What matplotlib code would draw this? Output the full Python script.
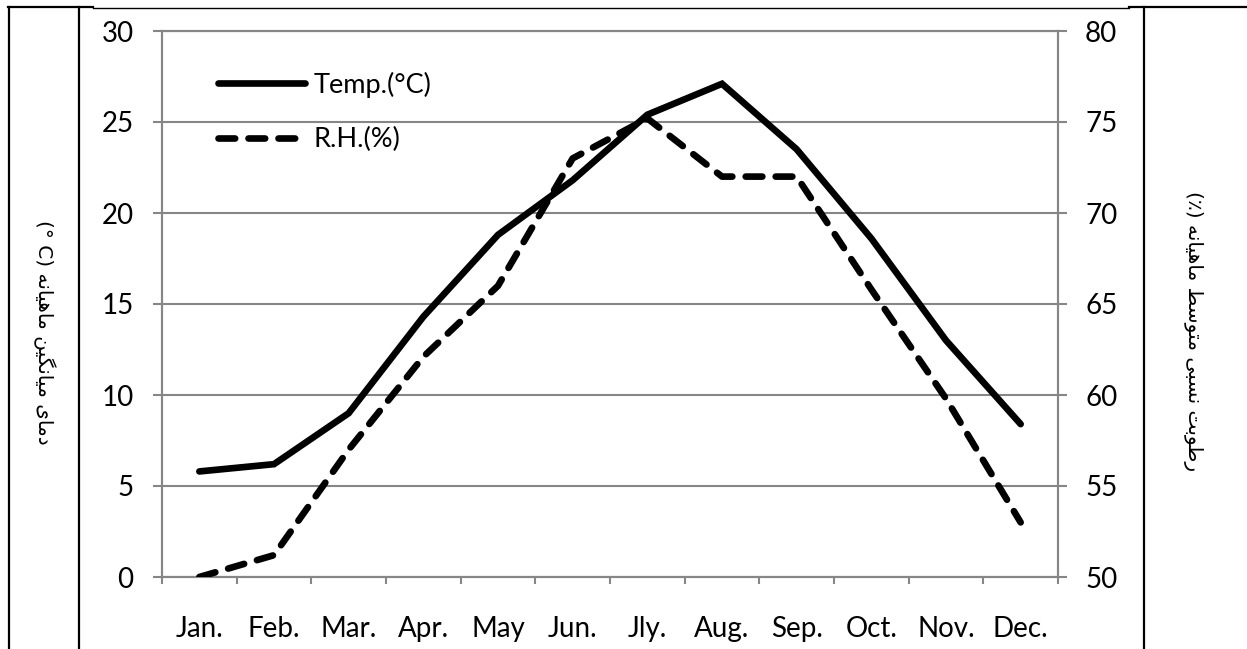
import matplotlib
matplotlib.use("Agg")
import matplotlib.pyplot as plt
from matplotlib.lines import Line2D
import numpy as np

# Datos
months = ['Jan.', 'Feb.', 'Mar.', 'Apr.', 'May', 'Jun.', 'Jly.', 'Aug.', 'Sep.', 'Oct.', 'Nov.', 'Dec.']
temp = [5.8, 6.2, 9.0, 14.3, 18.8, 21.8, 25.4, 27.1, 23.5, 18.6, 13.0, 8.4]
rh = [50.0, 51.2, 57.0, 62.1, 66.0, 73.0, 75.2, 72.0, 72.0, 65.8, 59.8, 53.0]
temp_ticks = [0, 5, 10, 15, 20, 25, 30]
rh_ticks = [50, 55, 60, 65, 70, 75, 80]
label_temp = 'دمای میانگین ماهیانه'
label_rh = 'رطوبت نسبی متوسط ماهیانه'

# formas de presentacion arabes (aislada, final, inicial, media)
FORMS = {
    'ا': ('\uFE8D', '\uFE8E'),
    'ب': ('\uFE8F', '\uFE90', '\uFE91', '\uFE92'),
    'ت': ('\uFE95', '\uFE96', '\uFE97', '\uFE98'),
    'د': ('\uFEA9', '\uFEAA'),
    'ر': ('\uFEAD', '\uFEAE'),
    'س': ('\uFEB1', '\uFEB2', '\uFEB3', '\uFEB4'),
    'ط': ('\uFEC1', '\uFEC2', '\uFEC3', '\uFEC4'),
    'م': ('\uFEE1', '\uFEE2', '\uFEE3', '\uFEE4'),
    'ن': ('\uFEE5', '\uFEE6', '\uFEE7', '\uFEE8'),
    'ه': ('\uFEE9', '\uFEEA', '\uFEEB', '\uFEEC'),
    'و': ('\uFEED', '\uFEEE'),
    'ی': ('\uFBFC', '\uFBFD', '\uFBFE', '\uFBFF'),
    'گ': ('\uFB92', '\uFB93', '\uFB94', '\uFB95'),
}


def shape(text):
    out = []
    for i, c in enumerate(text):
        if c not in FORMS:
            out.append(c)
            continue
        f = FORMS[c]
        prev = text[i - 1] if i > 0 else None
        nxt = text[i + 1] if i + 1 < len(text) else None
        jp = prev in FORMS and len(FORMS[prev]) == 4
        jn = len(f) == 4 and nxt in FORMS
        if jp and jn:
            out.append(f[3])
        elif jp:
            out.append(f[1])
        elif jn:
            out.append(f[2])
        else:
            out.append(f[0])
    return ''.join(out)[::-1]


plt.rcParams['font.family'] = ['Lato', 'DejaVu Sans']
W, H = 1247, 649
fig = plt.figure(figsize=(W / 100, H / 100), dpi=100)
ax = fig.add_axes([162 / W, 1 - 577 / H, (1058 - 162) / W, (577 - 31) / H])
ax2 = ax.twinx()

grey = '#868686'
x = np.arange(len(months))

ax.plot(x, temp, color='black', lw=4.8, solid_capstyle='round', solid_joinstyle='miter', label='Temp.(°C)', zorder=3)
ax2.plot(x, rh, color='black', lw=4.8, ls=(0, (2.5, 2.0)), dash_capstyle='round', label='R.H.(%)', zorder=3)

ax.set_xlim(-0.5, 11.5)
ax.set_ylim(0, 30)
ax2.set_ylim(50, 80)
ax.set_yticks(temp_ticks)
ax2.set_yticks(rh_ticks)
ax.set_xticks(np.arange(-0.5, 12, 1))
ax.set_xticklabels([])
ax.set_xticks(x, minor=True)
ax.set_xticklabels(months, minor=True)

ax.yaxis.grid(True, color=grey, lw=1.5)
ax.set_axisbelow(True)

for a in (ax, ax2):
    for s in a.spines.values():
        s.set_color(grey)
        s.set_linewidth(1.5)
    a.set_facecolor('none')

ax.tick_params(axis='y', length=6.5, width=1.5, color=grey, pad=14, labelsize=20)
ax2.tick_params(axis='y', length=6.5, width=1.5, color=grey, pad=13, labelsize=20)
ax.tick_params(axis='x', which='major', length=5, width=1.5, color=grey)
ax.tick_params(axis='x', which='minor', length=0, pad=28, labelsize=20)

h1, l1 = ax.get_legend_handles_labels()
h2, l2 = ax2.get_legend_handles_labels()
ax2.legend(h1 + h2, l1 + l2, loc='upper left', bbox_to_anchor=(0.063, 0.926), frameon=False,
           fontsize=19.5, handlelength=3.2, handletextpad=0.3, labelspacing=1.1, borderpad=0, borderaxespad=0)

fig.text(44 / W, 1 - 332 / H, '(° C) ' + shape(label_temp), rotation=270, ha='center', va='center',
         fontsize=14.5, family='DejaVu Sans')
fig.text(1193 / W, 1 - 331 / H, '(٪) ' + shape(label_rh), rotation=270, ha='center', va='center',
         fontsize=14.5, family='DejaVu Sans')

# bordes de la tabla
def fline(xs, ys, lw):
    fig.add_artist(Line2D([v / W for v in xs], [1 - v / H for v in ys], color='black', lw=lw))

fline([8.5, 8.5], [7, H], 1.6)
fline([79, 79], [7, H], 1.6)
fline([1144, 1144], [7, H], 1.6)
fline([8, 93], [7.3, 7.3], 1.6)
fline([93, 1129], [7.7, 7.7], 1.0)
fline([1129, 1246], [7.3, 7.3], 1.6)

fig.savefig('out.png', dpi=100)
